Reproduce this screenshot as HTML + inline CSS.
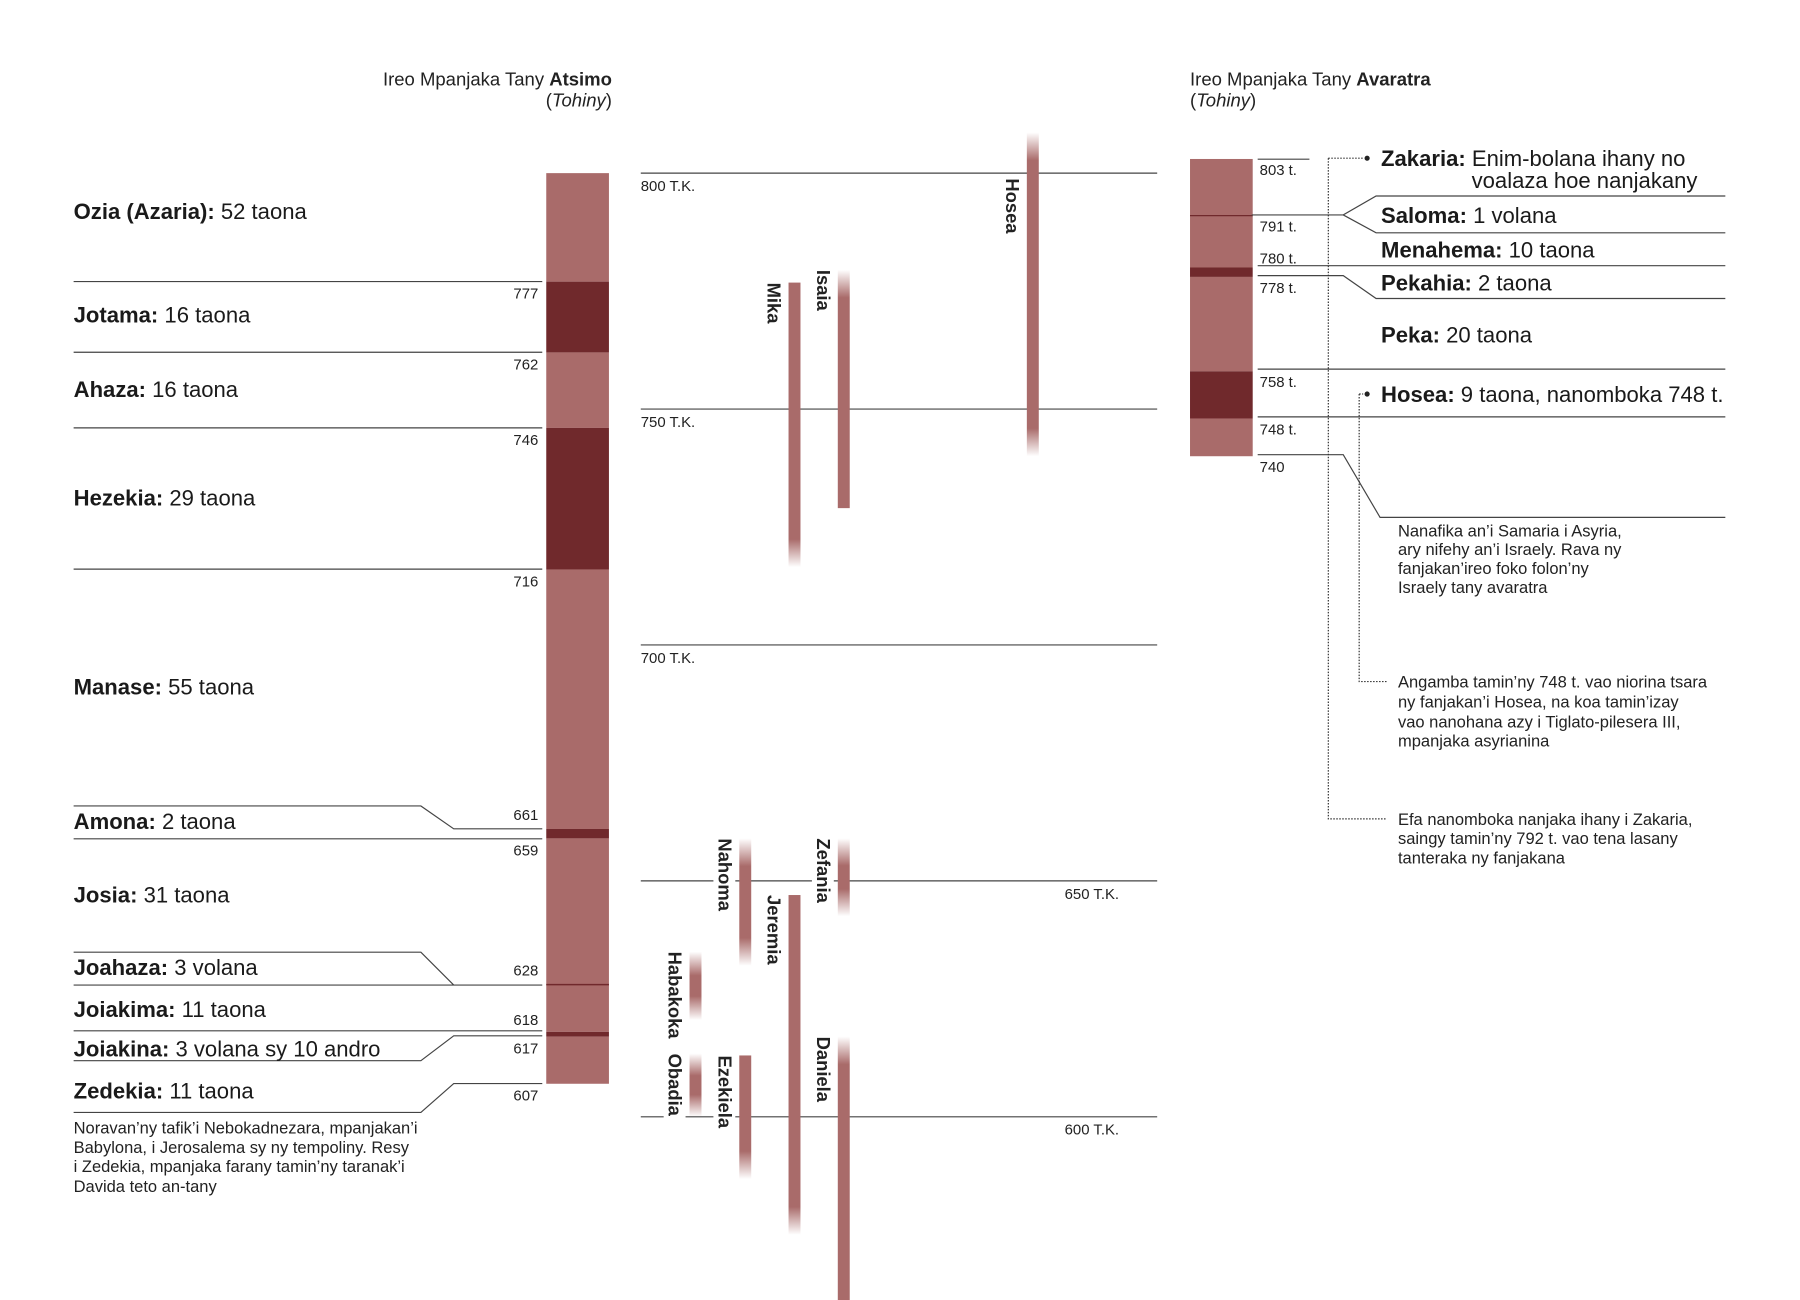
<!DOCTYPE html>
<html><head><meta charset="utf-8">
<style>
html,body{margin:0;padding:0;background:#fff;}
svg{display:block;font-family:"Liberation Sans",sans-serif;}
.k{font-size:22.2px;fill:#1a1a1a;}
.kb{font-weight:bold;}
.yr{font-size:15px;fill:#222;}
.note{font-size:16.6px;fill:#222;}
.ttl{font-size:18.6px;fill:#222;}
.pl{font-size:18.5px;font-weight:bold;fill:#222;}
.ln{stroke:#444;stroke-width:1.2;fill:none;}
.dot{stroke:#333;stroke-width:1.2;fill:none;stroke-dasharray:1.5 1.5;}
</style></head>
<body>
<svg id="chart" width="1800" height="1300" viewBox="0 0 1800 1300" xmlns="http://www.w3.org/2000/svg">
<defs id="grads"></defs>
<g transform="scale(0.995)">

<text class="ttl" x="615" y="86" text-anchor="end">Ireo Mpanjaka Tany <tspan font-weight="bold">Atsimo</tspan></text>
<text class="ttl" x="615" y="107" text-anchor="end">(<tspan font-style="italic">Tohiny</tspan>)</text>

<g id="axis"></g>
<g id="south"></g>
<g id="prophets"></g>

<g>
<path class="ln" d="M74 283H545 M74 354H545 M74 430H545 M74 572H545"/>
<path class="ln" d="M74 810H423L456 833H545 M74 843H545"/>
<path class="ln" d="M74 957H423L456 990H545 M74 990H545"/>
<path class="ln" d="M74 1036H545 M545 1041H456L423 1066H74"/>
<path class="ln" d="M545 1089H456L423 1118H74"/>
</g>
<g>
<text class="k" x="74" y="220"><tspan class="kb">Ozia (Azaria):</tspan> 52 taona</text>
<text class="k" x="74" y="324"><tspan class="kb">Jotama:</tspan> 16 taona</text>
<text class="k" x="74" y="399"><tspan class="kb">Ahaza:</tspan> 16 taona</text>
<text class="k" x="74" y="508"><tspan class="kb">Hezekia:</tspan> 29 taona</text>
<text class="k" x="74" y="698"><tspan class="kb">Manase:</tspan> 55 taona</text>
<text class="k" x="74" y="833"><tspan class="kb">Amona:</tspan> 2 taona</text>
<text class="k" x="74" y="907"><tspan class="kb">Josia:</tspan> 31 taona</text>
<text class="k" x="74" y="980"><tspan class="kb">Joahaza:</tspan> 3 volana</text>
<text class="k" x="74" y="1022"><tspan class="kb">Joiakima:</tspan> 11 taona</text>
<text class="k" x="74" y="1062"><tspan class="kb">Joiakina:</tspan> 3 volana sy 10 andro</text>
<text class="k" x="74" y="1104"><tspan class="kb">Zedekia:</tspan> 11 taona</text>
</g>
<g>
<text class="note" x="74" y="1139">Noravan’ny tafik’i Nebokadnezara, mpanjakan’i</text>
<text class="note" x="74" y="1159">Babylona, i Jerosalema sy ny tempoliny. Resy</text>
<text class="note" x="74" y="1178">i Zedekia, mpanjaka farany tamin’ny taranak’i</text>
<text class="note" x="74" y="1198">Davida teto an-tany</text>
</g>

<g>
<text class="ttl" x="1196" y="86">Ireo Mpanjaka Tany <tspan font-weight="bold">Avaratra</tspan></text>
<text class="ttl" x="1196" y="107">(<tspan font-style="italic">Tohiny</tspan>)</text>
<g id="north"></g>
<g>
<path class="ln" d="M1264 160H1316"/>
<path class="ln" d="M1258 216H1350L1383 197H1734 M1350 216L1383 234H1734"/>
<path class="ln" d="M1264 267H1734"/>
<path class="ln" d="M1264 277H1350L1383 300H1734"/>
<path class="ln" d="M1264 371H1734 M1264 419H1734"/>
<path class="ln" d="M1264 457H1350L1387 520H1734"/>
<path class="dot" d="M1335 159H1370 M1335 159V823H1394"/>
<path class="dot" d="M1366 396H1370 M1366 396V685H1394"/>
<circle cx="1374" cy="159" r="2.6" fill="#222"/>
<circle cx="1374" cy="396" r="2.6" fill="#222"/>
</g>
<g>
<text class="k" x="1388" y="167"><tspan class="kb">Zakaria:</tspan> Enim-bolana ihany no</text>
<text class="k" x="1479" y="189">voalaza hoe nanjakany</text>
<text class="k" x="1388" y="224"><tspan class="kb">Saloma:</tspan> 1 volana</text>
<text class="k" x="1388" y="259"><tspan class="kb">Menahema:</tspan> 10 taona</text>
<text class="k" x="1388" y="292"><tspan class="kb">Pekahia:</tspan> 2 taona</text>
<text class="k" x="1388" y="344"><tspan class="kb">Peka:</tspan> 20 taona</text>
<text class="k" x="1388" y="404"><tspan class="kb">Hosea:</tspan> 9 taona, nanomboka 748 t.</text>
</g>
<g>
<text class="note" x="1405" y="539">Nanafika an’i Samaria i Asyria,</text>
<text class="note" x="1405" y="558">ary nifehy an’i Israely. Rava ny</text>
<text class="note" x="1405" y="577">fanjakan’ireo foko folon’ny</text>
<text class="note" x="1405" y="596">Israely tany avaratra</text>
<text class="note" x="1405" y="691">Angamba tamin’ny 748 t. vao niorina tsara</text>
<text class="note" x="1405" y="711">ny fanjakan’i Hosea, na koa tamin’izay</text>
<text class="note" x="1405" y="731">vao nanohana azy i Tiglato-pilesera III,</text>
<text class="note" x="1405" y="750">mpanjaka asyrianina</text>
<text class="note" x="1405" y="829">Efa nanomboka nanjaka ihany i Zakaria,</text>
<text class="note" x="1405" y="848">saingy tamin’ny 792 t. vao tena lasany</text>
<text class="note" x="1405" y="868">tanteraka ny fanjakana</text>
</g>
</g>
</g>

<script>
// ---- data ----
var axisYears = [800, 750, 700, 650, 600];
var axisLabels = ["800 T.K.", "750 T.K.", "700 T.K.", "650 T.K.", "600 T.K."];
var southStart = [800, 777, 762, 746, 716, 661, 659, 628, 618, 617];
var southEnd   = [777, 762, 746, 716, 661, 659, 628, 618, 617, 607];
var southDark  = [0, 1, 0, 1, 0, 1, 0, 0, 1, 0];
var southTicks = [777, 762, 746, 716, 661, 659, 628, 618, 617, 607];
var northStart = [803, 791, 780, 778, 758, 748];
var northEnd   = [791, 780, 778, 758, 748, 740];
var northDark  = [0, 0, 1, 0, 1, 0];
var northTickLabels = ["803 t.", "791 t.", "780 t.", "778 t.", "758 t.", "748 t.", "740"];
var northTickYears  = [803, 791, 780, 778, 758, 748, 740];
var prophetNames = ["Hosea", "Isaia", "Mika", "Nahoma", "Zefania", "Jeremia", "Habakoka", "Obadia", "Ezekiela", "Daniela"];
var prophetFrom  = [808.6, 779.5, 776.8, 659, 659, 647, 635, 613.4, 613, 617];
var prophetTo    = [740, 729, 716.5, 632, 642.5, 575, 620.5, 600, 586.8, 555];
var prophetCol   = [3, 2, 1, 0, 2, 1, -1, -1, 0, 2];
var fadeTop      = [1, 1, 0, 1, 1, 0, 1, 1, 0, 1];
var fadeBot      = [1, 0, 1, 1, 1, 1, 1, 1, 1, 0];

// ---- scales ----
function yScale(yr) { return 174 + (800 - yr) * 4.742; }
function colX(c) { return c === 3 ? 1038 : 749 + c * 49.5; }
var NS = "http://www.w3.org/2000/svg";
function mk(tag, parent, attrs) {
  var e = document.createElementNS(NS, tag);
  for (var k in attrs) e.setAttribute(k, attrs[k]);
  parent.appendChild(e);
  return e;
}
var LIGHT = "#a96b6a", DARK = "#70292c";

var axis = document.getElementById("axis");
axisYears.forEach(function (yr, i) {
  var y = yScale(yr);
  var l = mk("line", axis, {x1: 644, x2: 1163, y1: y, y2: y, stroke: "#444", "stroke-width": 1.2});
  
  
  var right = yr === 650 || yr === 600;
  var t = mk("text", axis, {x: right ? 1070 : 644, y: y + 18, "class": "yr"});
  t.textContent = axisLabels[i];
  
  
});

var south = document.getElementById("south");
southStart.forEach(function (s, i) {
  var y0 = yScale(s), y1 = yScale(southEnd[i]);
  var r = mk("rect", south, {x: 549, y: y0, width: 63, height: y1 - y0, fill: southDark[i] ? DARK : LIGHT});
  
  
});
mk("line", south, {x1: 549, x2: 612, y1: yScale(628), y2: yScale(628), stroke: DARK, "stroke-width": 1.5});
var tickOffsets = {661: -9, 628: -9, 618: -7};
southTicks.forEach(function (yr) {
  var off = tickOffsets[yr] !== undefined ? tickOffsets[yr] : 17;
  var t = mk("text", south, {x: 541, y: yScale(yr) + off, "text-anchor": "end", "class": "yr"});
  t.textContent = String(yr);
  
  
});

var north = document.getElementById("north");
northStart.forEach(function (s, i) {
  var y0 = yScale(s), y1 = yScale(northEnd[i]);
  var r = mk("rect", north, {x: 1196, y: y0, width: 63, height: y1 - y0, fill: northDark[i] ? DARK : LIGHT});
  
  
});
mk("line", north, {x1: 1196, x2: 1259, y1: yScale(791), y2: yScale(791), stroke: DARK, "stroke-width": 1.2});
var nOff = {780: -4};
northTickYears.forEach(function (yr, i) {
  var off = nOff[yr] !== undefined ? nOff[yr] : 16;
  var t = mk("text", north, {x: 1266, y: yScale(yr) + off, "class": "yr"});
  t.textContent = northTickLabels[i];
  
  
});

var pg = document.getElementById("prophets");
var defs = document.getElementById("grads");
var labelShift = {"Hosea": 46};
prophetNames.forEach(function (n, i) {
  var y0 = yScale(prophetFrom[i]), y1 = Math.min(yScale(prophetTo[i]), 1310);
  var h = y1 - y0;
  var cx = prophetCol[i] === -1 ? 699 : colX(prophetCol[i]);
  var f = Math.min(0.35, 28 / h);
  var g = mk("linearGradient", defs, {id: "g" + i, x1: 0, y1: 0, x2: 0, y2: 1});
  mk("stop", g, {offset: 0, "stop-color": LIGHT, "stop-opacity": fadeTop[i] ? 0 : 1});
  mk("stop", g, {offset: fadeTop[i] ? f : 0, "stop-color": LIGHT, "stop-opacity": 1});
  mk("stop", g, {offset: fadeBot[i] ? 1 - f : 1, "stop-color": LIGHT, "stop-opacity": 1});
  mk("stop", g, {offset: 1, "stop-color": LIGHT, "stop-opacity": fadeBot[i] ? 0 : 1});
  var lx = cx - 21;
  var ly = y0 + (labelShift[n] || 0);
  var t = mk("text", pg, {x: 0, y: 0, "class": "pl", transform: "translate(" + (lx - 6) + "," + ly + ") rotate(90)"});
  t.textContent = n;
  
  
  var len = t.getComputedTextLength ? t.getComputedTextLength() : 60;
  var bg = mk("rect", pg, {x: lx - 11, y: ly - 3, width: 22, height: len + 6, fill: "#fff"});
  pg.insertBefore(bg, t);
  var r = mk("rect", pg, {x: cx - 6, y: y0, width: 12, height: h, fill: "url(#g" + i + ")"});
  
  
});
</script>
</svg>
</body></html>
